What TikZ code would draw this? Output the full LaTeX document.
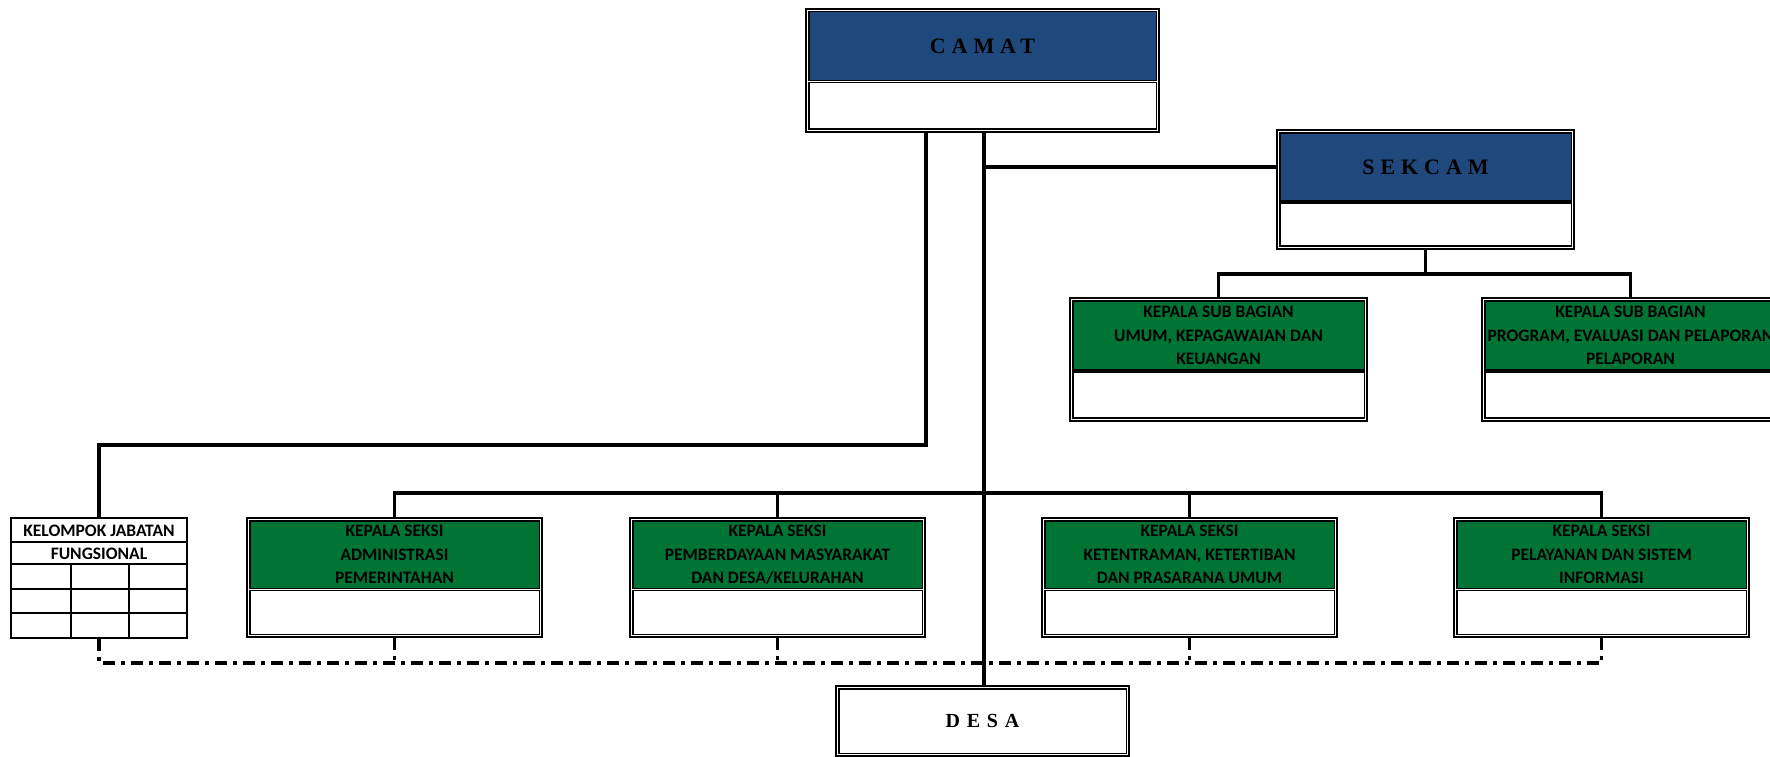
\documentclass[tikz,border=0pt]{standalone}
\usepackage{fontspec}
\setmainfont{Carlito}
\newfontfamily\titlefont[LetterSpace=27]{Liberation Serif}
\newfontfamily\desafont[LetterSpace=34]{Liberation Serif}
\usetikzlibrary{fit,calc}
\definecolor{camblue}{RGB}{31,73,125}
\definecolor{camgreen}{RGB}{0,116,52}
\begin{document}
\begin{tikzpicture}[x=1pt,y=-1pt,
  cell/.style={draw=black, line width=1.2pt, inner sep=0pt, align=center},
  bluecell/.style={cell, fill=camblue, font=\titlefont\bfseries\fontsize{22}{26}\selectfont},
  greencell/.style={cell, fill=camgreen, font=\bfseries\fontsize{17.5}{23.5}\selectfont},
  whitecell/.style={cell, fill=white},
  frame/.style={draw=black, line width=2.4pt, inner sep=2.1pt},
  conn/.style={draw=black, line width=3.4pt},
  dconn/.style={draw=black, line width=3.6pt, dash pattern=on 12pt off 6pt on 4pt off 6pt},
  lbl/.style={font=\bfseries\fontsize{17.5}{23.5}\selectfont, inner sep=0pt},
]
\fill[white] (0,0) rectangle (1770,757);
\useasboundingbox (0,0) rectangle (1770,757);
\clip (0,0) rectangle (1770,757);

% CAMAT
\node[bluecell, minimum width=347.2, minimum height=68.6] (camatT) at (982.5,46.2) {CAMAT};
\node[whitecell, minimum width=347.2, minimum height=46.6] (camatB) at (982.5,105.8) {};
\node[frame, fit=(camatT)(camatB)] (camat) {};

% SEKCAM
\node[bluecell, minimum width=291.2, minimum height=68.1] (sekcamT) at (1425.5,167) {SEKCAM};
\node[whitecell, minimum width=291.2, minimum height=43.1] (sekcamB) at (1425.5,224.5) {};
\node[frame, fit=(sekcamT)(sekcamB)] (sekcam) {};

% Sub bagian
\node[greencell, minimum width=291.2, minimum height=69.1] (subLT) at (1218.5,335.5) {KEPALA SUB BAGIAN\\UMUM, KEPAGAWAIAN DAN\\KEUANGAN};
\node[whitecell, minimum width=291.2, minimum height=46.1] (subLB) at (1218.5,395) {};
\node[frame, fit=(subLT)(subLB)] (subL) {};

\node[greencell, minimum width=291.2, minimum height=69.1] (subRT) at (1630.5,335.5) {KEPALA SUB BAGIAN\\PROGRAM, EVALUASI DAN PELAPORAN\\PELAPORAN};
\node[whitecell, minimum width=291.2, minimum height=46.1] (subRB) at (1630.5,395) {};
\node[frame, fit=(subRT)(subRB)] (subR) {};

% Seksi
\node[greencell, minimum width=289.2, minimum height=67.6] (s1T) at (394.5,554.7) {KEPALA SEKSI\\ADMINISTRASI\\PEMERINTAHAN};
\node[whitecell, minimum width=289.2, minimum height=43.6] (s1B) at (394.5,612.3) {};
\node[frame, fit=(s1T)(s1B)] (s1) {};

\node[greencell, minimum width=289.2, minimum height=67.6] (s2T) at (777.5,554.7) {KEPALA SEKSI\\PEMBERDAYAAN MASYARAKAT\\DAN DESA/KELURAHAN};
\node[whitecell, minimum width=289.2, minimum height=43.6] (s2B) at (777.5,612.3) {};
\node[frame, fit=(s2T)(s2B)] (s2) {};

\node[greencell, minimum width=289.2, minimum height=67.6] (s3T) at (1189.5,554.7) {KEPALA SEKSI\\KETENTRAMAN, KETERTIBAN\\DAN PRASARANA UMUM};
\node[whitecell, minimum width=289.2, minimum height=43.6] (s3B) at (1189.5,612.3) {};
\node[frame, fit=(s3T)(s3B)] (s3) {};

\node[greencell, minimum width=289.2, minimum height=67.6] (s4T) at (1601.5,554.7) {KEPALA SEKSI\\PELAYANAN DAN SISTEM\\INFORMASI};
\node[whitecell, minimum width=289.2, minimum height=43.6] (s4B) at (1601.5,612.3) {};
\node[frame, fit=(s4T)(s4B)] (s4) {};

% Kelompok jabatan fungsional
\node[draw=black, line width=2pt, minimum width=176, minimum height=120, inner sep=0pt] (kjf) at (99,578) {};
\draw[line width=2pt] (11,542) -- (187,542);
\draw[line width=2pt] (11,564) -- (187,564);
\draw[line width=2pt] (11,589) -- (187,589);
\draw[line width=2pt] (11,613) -- (187,613);
\draw[line width=2pt] (71,564) -- (71,638);
\draw[line width=2pt] (129,564) -- (129,638);
\node[lbl] (kjf1) at (99,531) {KELOMPOK JABATAN};
\node[lbl] (kjf2) at (99,554) {FUNGSIONAL};

% DESA
\node[whitecell, minimum width=287.2, minimum height=64.2, font=\desafont\bfseries\fontsize{20}{24}\selectfont] (desaC) at (982.5,721) {DESA};
\node[frame, fit=(desaC)] (desa) {};

% connectors
\coordinate (mainx) at (984,0);
\coordinate (kbend) at (0,445);
\coordinate (subbus) at (0,274);
\coordinate (sbus) at (0,493);
\coordinate (dbus) at (0,663);

\draw[conn] ([xshift=-56.5pt]camat.south) |- (kbend -| kjf.north) -- (kjf.north);
\draw[conn] (sekcam.west |- sekcamT.west) -- (sekcamT.west -| mainx);
\draw[conn] (sekcam.south) -- (sekcam.south |- subbus);
\draw[conn] (subL.north) |- (subbus -| subR.north) -- (subR.north);
\draw[conn] (s1.north) |- (sbus -| s4.north) -- (s4.north);
\draw[conn] (s2.north) -- (s2.north |- sbus);
\draw[conn] (s3.north) -- (s3.north |- sbus);
\draw[dconn] (kjf.south) |- (dbus -| s4.south) -- (s4.south);
\draw[dconn] (s1.south) -- (s1.south |- dbus);
\draw[dconn] (s2.south) -- (s2.south |- dbus);
\draw[dconn] (s3.south) -- (s3.south |- dbus);
\draw[conn] (camat.south -| mainx) -- (desa.north -| mainx);
\end{tikzpicture}
\end{document}
